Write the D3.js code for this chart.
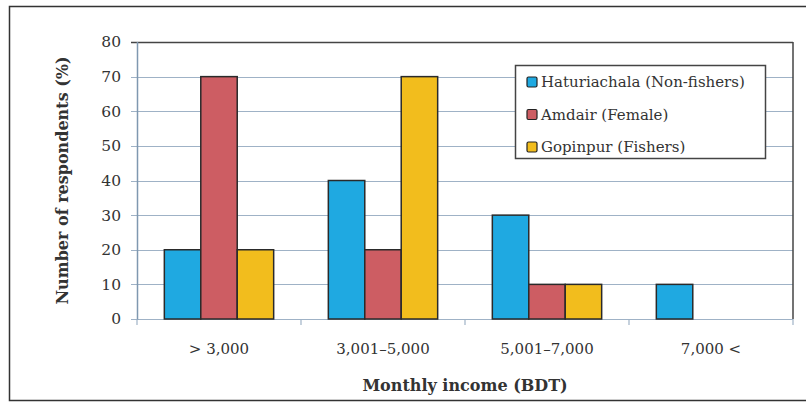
<!DOCTYPE html>
<html>
<head>
<meta charset="utf-8">
<script src="https://cdn.jsdelivr.net/npm/d3@7"></script>
<style>
  body { margin: 0; background: #fff; }
  svg text { font-family: "DejaVu Serif", "Liberation Serif", serif; }
</style>
</head>
<body>
<div id="chart"></div>
<script>
// Monthly income distribution by village

const categories = ['> 3,000', '3,001\u20135,000', '5,001\u20137,000', '7,000  <'];
const seriesNames = ['Haturiachala (Non-fishers)', 'Amdair (Female)', 'Gopinpur (Fishers)'];
const haturiachala = [20, 40, 30, 10];
const amdair = [70, 20, 10, 0];
const gopinpur = [20, 70, 10, 0];
const yTicks = [0, 10, 20, 30, 40, 50, 60, 70, 80];

const colors = ['#1fa9e1', '#cd5d63', '#f2bd1d'];

const width = 806, height = 403;
const margin = { left: 137, right: 13, top: 42, bottom: 84 };
const innerW = width - margin.left - margin.right;
const innerH = height - margin.top - margin.bottom;

const svg = d3.select('#chart').append('svg')
    .attr('width', width)
    .attr('height', height);

// outer frame
svg.append('rect')
    .attr('x', 9.5).attr('y', 6.5)
    .attr('width', 820).attr('height', 394)
    .attr('fill', 'none')
    .attr('stroke', '#333')
    .attr('stroke-width', 1.5);

const g = svg.append('g').attr('transform', `translate(${margin.left},${margin.top})`);

const x = d3.scaleBand().domain(categories).range([0, innerW]).paddingInner(0).paddingOuter(0);
const xs = d3.scaleBand().domain(seriesNames).range([0, x.bandwidth()]).paddingInner(0).paddingOuter(0.75);
const y = d3.scaleLinear().domain([0, 80]).range([innerH, 0]);

// gridlines
g.append('g').selectAll('line')
    .data(yTicks)
    .enter().append('line')
    .attr('x1', -6).attr('x2', innerW)
    .attr('y1', d => Math.round(y(d)) + 0.5)
    .attr('y2', d => Math.round(y(d)) + 0.5)
    .attr('stroke', d => d === 80 ? '#444' : '#9fb2c6')
    .attr('stroke-width', d => d === 80 ? 1.5 : 1.2);

// right border
g.append('line')
    .attr('x1', innerW).attr('x2', innerW)
    .attr('y1', 0).attr('y2', innerH)
    .attr('stroke', '#444').attr('stroke-width', 1.5);

// left axis line
g.append('line')
    .attr('x1', 0.5).attr('x2', 0.5)
    .attr('y1', 0).attr('y2', innerH + 1)
    .attr('stroke', '#7f98b0').attr('stroke-width', 1.5);

// y tick labels
g.append('g').selectAll('text')
    .data(yTicks)
    .enter().append('text')
    .attr('x', -16)
    .attr('y', d => y(d))
    .attr('dy', '0.35em')
    .attr('text-anchor', 'end')
    .attr('font-size', 15.5)
    .attr('fill', '#333')
    .text(d => d);

// x axis ticks
const xAxis = g.append('g')
    .attr('transform', `translate(0,${innerH})`)
    .call(d3.axisBottom(x).tickSize(0).tickPadding(24));
xAxis.select('.domain').remove();
xAxis.selectAll('text')
    .attr('font-size', 15)
    .attr('fill', '#333')
    .style('font-family', '"DejaVu Serif", serif');
const bounds = categories.map((c, i) => x(c)).concat([innerW]);
g.append('g').selectAll('line')
    .data(bounds)
    .enter().append('line')
    .attr('x1', d => d).attr('x2', d => d)
    .attr('y1', innerH).attr('y2', innerH + 6)
    .attr('stroke', '#9fb2c6').attr('stroke-width', 1.2);

// bars
const rows = categories.map((c, i) => ({
    cat: c,
    vals: [haturiachala[i], amdair[i], gopinpur[i]]
}));

const groups = g.selectAll('.grp')
    .data(rows)
    .enter().append('g')
    .attr('class', 'grp')
    .attr('transform', d => `translate(${x(d.cat)},0)`);

groups.selectAll('rect')
    .data(d => d.vals.map((v, k) => ({ name: seriesNames[k], v: v, k: k })).filter(e => e.v > 0))
    .enter().append('rect')
    .attr('x', d => xs(d.name))
    .attr('y', d => y(d.v))
    .attr('width', xs.bandwidth())
    .attr('height', d => innerH - y(d.v))
    .attr('fill', d => colors[d.k])
    .attr('stroke', '#2a2a2a')
    .attr('stroke-width', 1.5);

// axis titles
svg.append('text')
    .attr('transform', `translate(68,${margin.top + innerH / 2}) rotate(-90)`)
    .attr('text-anchor', 'middle')
    .attr('font-size', 16)
    .attr('font-weight', 'bold')
    .attr('fill', '#333')
    .text('Number of respondents (%)');

svg.append('text')
    .attr('x', margin.left + innerW / 2)
    .attr('y', 391)
    .attr('text-anchor', 'middle')
    .attr('font-size', 16)
    .attr('font-weight', 'bold')
    .attr('fill', '#333')
    .text('Monthly income (BDT)');

// legend
const legend = svg.append('g').attr('transform', 'translate(515,65)');
legend.append('rect')
    .attr('x', 0.5).attr('y', 0.5)
    .attr('width', 250).attr('height', 93)
    .attr('fill', '#fff')
    .attr('stroke', '#444')
    .attr('stroke-width', 1.5);

const items = legend.selectAll('.item')
    .data(seriesNames)
    .enter().append('g')
    .attr('class', 'item')
    .attr('transform', (d, i) => `translate(12,${17 + i * 32.5})`);

items.append('rect')
    .attr('x', 0).attr('y', -5)
    .attr('width', 10).attr('height', 10)
    .attr('rx', 1.5)
    .attr('fill', (d, i) => colors[i])
    .attr('stroke', '#222')
    .attr('stroke-width', 1.2);

items.append('text')
    .attr('x', 14)
    .attr('dy', '0.35em')
    .attr('font-size', 15)
    .attr('fill', '#333')
    .text(d => d);
</script>
</body>
</html>
